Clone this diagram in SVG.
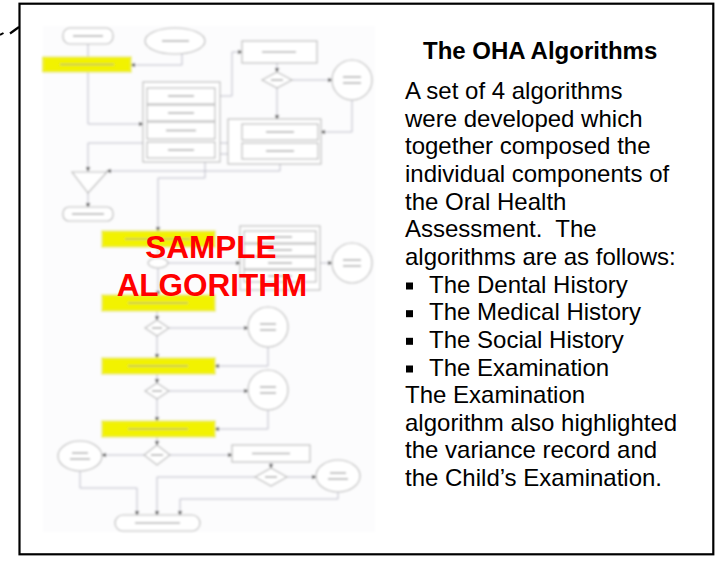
<svg xmlns="http://www.w3.org/2000/svg" width="715" height="563" viewBox="0 0 715 563">
<defs>
<style>
.sh{fill:#fff;stroke:#bcbcbc;stroke-width:1.2}
.yl{fill:#f2f200;stroke:#eaea40;stroke-width:1.5}
.cn{fill:none;stroke:#bcbcc8;stroke-width:1}
.ar{marker-end:url(#ah)}
.lb{stroke:#b0b0b0;stroke-width:1.6}
.ly{stroke:#c0c060;stroke-width:1.6}
.tx{font-family:"Liberation Sans",Arial,Helvetica,sans-serif;font-size:24px;fill:#000}
.tt{font-weight:bold}
.smp{font-family:"Liberation Sans",Arial,Helvetica,sans-serif;font-weight:bold;font-size:31.5px;fill:#ff0000;text-anchor:middle}
</style>
<marker id="ah" viewBox="0 0 8 8" refX="7" refY="4" markerWidth="5" markerHeight="5" orient="auto" markerUnits="userSpaceOnUse">
<path d="M0,0 L8,4 L0,8 Z" fill="#555"/>
</marker>
<filter id="bl" x="-5%" y="-5%" width="110%" height="110%">
<feGaussianBlur stdDeviation="0.8"/>
</filter>
</defs>
<rect width="715" height="563" fill="#fff"/>
<g id="frame">
<rect x="19.5" y="3.7" width="693.8" height="550.6" fill="none" stroke="#000" stroke-width="2.2"/>
<line x1="0" y1="35" x2="3.5" y2="33" stroke="#000" stroke-width="2"/>
<line x1="10" y1="33.5" x2="19" y2="27" stroke="#000" stroke-width="2.2"/>
</g>
<g id="flowchart" filter="url(#bl)">
<rect x="43" y="26" width="332" height="506" fill="#fcfcfd"/>
<g id="connectors">
<polyline class="cn ar" points="88,44 88,124 143,124"/>
<polyline class="cn ar" points="182,54 182,65 131,65"/>
<polyline class="cn ar" points="220,96 232,96 232,52 242,52"/>
<polyline class="cn ar" points="277,63 277,72"/>
<polyline class="cn ar" points="292,80 332,80"/>
<polyline class="cn ar" points="277,88 277,119"/>
<polyline class="cn ar" points="352,100 352,132 321,132"/>
<polyline class="cn ar" points="220,143 241,143"/>
<polyline class="cn ar" points="220,154 241,154"/>
<polyline class="cn ar" points="143,143 88,143 88,171"/>
<polyline class="cn ar" points="280,164 280,171 107,171"/>
<polyline class="cn ar" points="88,193 88,207"/>
<polyline class="cn ar" points="205,162 205,178 158,178 158,231"/>
<polyline class="cn" points="158,247 158,258"/>
<polyline class="cn ar" points="168,263 240,263"/>
<polyline class="cn ar" points="320,263 332,263"/>
<polyline class="cn ar" points="158,268 158,295"/>
<polyline class="cn ar" points="157,311 157,320"/>
<polyline class="cn ar" points="169,328 248,328"/>
<polyline class="cn ar" points="157,336 157,358"/>
<polyline class="cn ar" points="268,347 268,366 215,366"/>
<polyline class="cn ar" points="157,374 157,383"/>
<polyline class="cn ar" points="169,391 248,391"/>
<polyline class="cn ar" points="157,399 157,421"/>
<polyline class="cn ar" points="268,410 268,429 215,429"/>
<polyline class="cn ar" points="157,437 157,445"/>
<polyline class="cn ar" points="144,455 102,455"/>
<polyline class="cn ar" points="170,455 232,455"/>
<polyline class="cn ar" points="271,462 271,468"/>
<polyline class="cn ar" points="287,477 316,477"/>
<polyline class="cn ar" points="255,477 157,477 157,515"/>
<polyline class="cn ar" points="80,471 80,488 137,488 137,515"/>
<polyline class="cn ar" points="338,492 338,499 180,499 180,515"/>
</g>
<g id="n-start"><rect class="sh" x="63" y="28" width="50" height="16" rx="7"/><line class="lb" x1="73" y1="36" x2="103" y2="36"/></g>
<g id="n-input"><ellipse class="sh" cx="175" cy="41" rx="30" ry="13"/><line class="lb" x1="162" y1="41" x2="189" y2="41"/></g>
<g id="n-y1"><rect class="yl" x="43" y="57" width="88" height="15"/><line class="ly" x1="60" y1="64.5" x2="114" y2="64.5"/></g>
<g id="n-group1">
<rect class="sh" x="143" y="82" width="77" height="80"/>
<rect class="sh" x="147" y="88" width="68" height="16"/><line class="lb" x1="168" y1="96" x2="194" y2="96"/>
<rect class="sh" x="147" y="105" width="68" height="16"/><line class="lb" x1="168" y1="113" x2="194" y2="113"/>
<rect class="sh" x="147" y="122" width="68" height="17"/><line class="lb" x1="166" y1="130.5" x2="196" y2="130.5"/>
<rect class="sh" x="147" y="142" width="68" height="16"/><line class="lb" x1="168" y1="150" x2="194" y2="150"/>
</g>
<g id="n-box2"><rect class="sh" x="242" y="41" width="75" height="22"/><line class="lb" x1="262" y1="52" x2="296" y2="52"/></g>
<g id="n-d1"><polygon class="sh" points="277,72 292,80 277,88 262,80"/><line class="lb" x1="271" y1="80" x2="283" y2="80"/></g>
<g id="n-c1"><circle class="sh" cx="352" cy="80" r="20"/><line class="lb" x1="343" y1="77" x2="361" y2="77"/><line class="lb" x1="343" y1="83" x2="361" y2="83"/></g>
<g id="n-group2">
<rect class="sh" x="228" y="119" width="93" height="45"/>
<rect class="sh" x="242" y="124" width="76" height="16"/><line class="lb" x1="266" y1="132" x2="294" y2="132"/>
<rect class="sh" x="242" y="143" width="76" height="16"/><line class="lb" x1="266" y1="151" x2="294" y2="151"/>
</g>
<g id="n-merge"><polygon class="sh" points="72,172 107,172 88,193"/></g>
<g id="n-box3"><rect class="sh" x="63" y="207" width="50" height="14" rx="6"/><line class="lb" x1="72" y1="214" x2="104" y2="214"/></g>
<g id="n-y2"><rect class="yl" x="102" y="231" width="113" height="16"/><line class="ly" x1="125" y1="239" x2="190" y2="239"/></g>
<g id="n-e2"><ellipse class="sh" cx="158" cy="263" rx="10" ry="5"/></g>
<g id="n-group3">
<rect class="sh" x="240" y="226" width="80" height="64"/>
<rect class="sh" x="244" y="231" width="72" height="12"/><line class="lb" x1="268" y1="237" x2="292" y2="237"/>
<rect class="sh" x="244" y="244" width="72" height="12"/><line class="lb" x1="268" y1="250" x2="292" y2="250"/>
<rect class="sh" x="244" y="257" width="72" height="12"/><line class="lb" x1="268" y1="263" x2="292" y2="263"/>
<rect class="sh" x="244" y="270" width="72" height="12"/><line class="lb" x1="268" y1="276" x2="292" y2="276"/>
</g>
<g id="n-c3"><circle class="sh" cx="352" cy="263" r="20"/><line class="lb" x1="343" y1="260" x2="361" y2="260"/><line class="lb" x1="343" y1="266" x2="361" y2="266"/></g>
<g id="n-y3"><rect class="yl" x="102" y="295" width="113" height="16"/><line class="ly" x1="128" y1="303" x2="188" y2="303"/></g>
<g id="n-d2"><polygon class="sh" points="157,320 169,328 157,336 145,328"/><line class="lb" x1="152" y1="328" x2="162" y2="328"/></g>
<g id="n-c4"><circle class="sh" cx="268" cy="327" r="20"/><line class="lb" x1="260" y1="324" x2="276" y2="324"/><line class="lb" x1="260" y1="330" x2="276" y2="330"/></g>
<g id="n-y4"><rect class="yl" x="102" y="358" width="113" height="16"/><line class="ly" x1="128" y1="366" x2="188" y2="366"/></g>
<g id="n-d3"><polygon class="sh" points="157,383 169,391 157,399 145,391"/><line class="lb" x1="152" y1="391" x2="162" y2="391"/></g>
<g id="n-c5"><circle class="sh" cx="268" cy="390" r="20"/><line class="lb" x1="260" y1="387" x2="276" y2="387"/><line class="lb" x1="260" y1="393" x2="276" y2="393"/></g>
<g id="n-y5"><rect class="yl" x="102" y="421" width="113" height="16"/><line class="ly" x1="128" y1="429" x2="188" y2="429"/></g>
<g id="n-d4"><polygon class="sh" points="157,445 170,455 157,465 144,455"/><line class="lb" x1="151" y1="455" x2="163" y2="455"/></g>
<g id="n-eL"><ellipse class="sh" cx="80" cy="456" rx="22" ry="15"/><line class="lb" x1="72" y1="453" x2="88" y2="453"/><line class="lb" x1="70" y1="459" x2="90" y2="459"/></g>
<g id="n-box4"><rect class="sh" x="232" y="445" width="78" height="17"/><line class="lb" x1="252" y1="453.5" x2="290" y2="453.5"/></g>
<g id="n-d5"><polygon class="sh" points="271,468 287,477 271,486 255,477"/><line class="lb" x1="265" y1="477" x2="277" y2="477"/></g>
<g id="n-eR"><ellipse class="sh" cx="338" cy="476" rx="22" ry="16"/><line class="lb" x1="330" y1="473" x2="346" y2="473"/><line class="lb" x1="328" y1="479" x2="348" y2="479"/></g>
<g id="n-end"><rect class="sh" x="115" y="515" width="85" height="16" rx="8"/><line class="lb" x1="135" y1="523" x2="180" y2="523"/></g>
</g>
<g id="sample">
<text class="smp" x="211" y="258">SAMPLE</text>
<text class="smp" x="212" y="296">ALGORITHM</text>
</g>
<g id="description">
<text class="tx tt" x="423" y="59">The OHA Algorithms</text>
<text class="tx" x="405" y="99">A set of 4 algorithms</text>
<text class="tx" x="405" y="126.6">were developed which</text>
<text class="tx" x="405" y="154.3">together composed the</text>
<text class="tx" x="405" y="181.9">individual components of</text>
<text class="tx" x="405" y="209.6">the Oral Health</text>
<text class="tx" x="405" y="237.2">Assessment.&#160; The</text>
<text class="tx" x="405" y="264.9">algorithms are as follows:</text>
<rect x="406" y="282.5" width="7" height="7" fill="#000"/>
<text class="tx" x="429" y="292.5">The Dental History</text>
<rect x="406" y="310.2" width="7" height="7" fill="#000"/>
<text class="tx" x="429" y="320.2">The Medical History</text>
<rect x="406" y="337.8" width="7" height="7" fill="#000"/>
<text class="tx" x="429" y="347.8">The Social History</text>
<rect x="406" y="365.5" width="7" height="7" fill="#000"/>
<text class="tx" x="429" y="375.5">The Examination</text>
<text class="tx" x="405" y="403.1">The Examination</text>
<text class="tx" x="405" y="430.8">algorithm also highlighted</text>
<text class="tx" x="405" y="458.4">the variance record and</text>
<text class="tx" x="405" y="486.1">the Child’s Examination.</text>
</g>
</svg>
